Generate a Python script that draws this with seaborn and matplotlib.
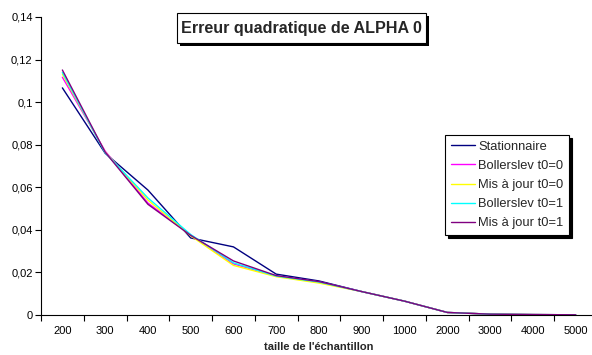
import matplotlib
matplotlib.use("Agg")
import matplotlib.pyplot as plt
import matplotlib.patheffects as pe
from matplotlib.patches import Rectangle
import numpy as np
import pandas as pd
import seaborn as sns

# Data
tailles = ["200", "300", "400", "500", "600", "700", "800", "900",
           "1000", "2000", "3000", "4000", "5000"]
series = ["Stationnaire", "Bollerslev t0=0", "Mis à jour t0=0",
          "Bollerslev t0=1", "Mis à jour t0=1"]
stationnaire = [0.1067, 0.0760, 0.0587, 0.0362, 0.0320, 0.0192, 0.0160,
                0.0110, 0.0065, 0.0012, 0.0004, 0.0002, 0.0001]
bollerslev_0 = [0.1117, 0.0770, 0.0526, 0.0376, 0.0240, 0.0183, 0.0155,
                0.0110, 0.0065, 0.0012, 0.0004, 0.0002, 0.0001]
maj_0 = [0.1132, 0.0765, 0.0540, 0.0372, 0.0233, 0.0180, 0.0150,
         0.0110, 0.0065, 0.0012, 0.0004, 0.0002, 0.0001]
bollerslev_1 = [0.1140, 0.0762, 0.0550, 0.0378, 0.0245, 0.0183, 0.0155,
                0.0110, 0.0065, 0.0012, 0.0004, 0.0002, 0.0001]
maj_1 = [0.1151, 0.0765, 0.0520, 0.0374, 0.0254, 0.0185, 0.0157,
         0.0110, 0.0065, 0.0012, 0.0004, 0.0002, 0.0001]
couleurs = ["#000080", "#FF00FF", "#FFFF00", "#00FFFF", "#800080"]

y_ticks = [0, 0.02, 0.04, 0.06, 0.08, 0.10, 0.12, 0.14]

valeurs = [stationnaire, bollerslev_0, maj_0, bollerslev_1, maj_1]
df = pd.concat(
    [pd.DataFrame({"pos": np.arange(len(tailles)), "val": v, "serie": s})
     for s, v in zip(series, valeurs)],
    ignore_index=True,
)

sns.set_style("white")
plt.rcParams["font.family"] = ["Liberation Sans", "DejaVu Sans"]

W, H = 592, 355
fig = plt.figure(figsize=(W / 100, H / 100), dpi=100)
ax = fig.add_axes([41 / W, 1 - 315 / H, (597 - 41) / W, (315 - 17) / H])

sns.lineplot(data=df, x="pos", y="val", hue="serie", hue_order=series,
             palette=couleurs, sort=False, linewidth=1.0, legend=False, ax=ax)

ax.set_xlim(-0.5, len(tailles) - 0.5)
ax.set_ylim(0, 0.14)
ax.set_yticks(y_ticks)
ax.set_yticklabels([f"{v:g}".replace(".", ",") for v in y_ticks])
ax.set_xticks(np.arange(len(tailles)))
ax.set_xticklabels(tailles)
ax.set_xticks(np.arange(len(tailles) + 1) - 0.5, minor=True)
ax.tick_params(axis="x", which="major", length=0, labelsize=8, pad=8,
               colors="black")
ax.tick_params(axis="x", which="minor", length=4, width=0.8, direction="out",
               bottom=True, color="black")
ax.tick_params(axis="y", length=4, width=0.8, direction="out", left=True,
               labelsize=8, colors="black", pad=2)
for side in ["top", "right"]:
    ax.spines[side].set_visible(False)
for side in ["left", "bottom"]:
    ax.spines[side].set_color("black")
    ax.spines[side].set_linewidth(0.8)
ax.set_xlabel("taille de l'échantillon", fontsize=8, fontweight="bold",
              labelpad=4)
ax.set_ylabel("")

# Legend with shadow
leg = ax.legend(ax.get_lines()[:len(series)], series, loc="upper left",
                bbox_to_anchor=(445 / W, 1 - 135 / H),
                bbox_transform=fig.transFigure, borderaxespad=0,
                fontsize=9.3, frameon=True, fancybox=False,
                shadow={"color": "black", "alpha": 1},
                handlelength=1.9, handletextpad=0.2, labelspacing=0.55,
                borderpad=0.45)
leg.get_frame().set_edgecolor("black")
leg.get_frame().set_linewidth(0.8)
leg.get_frame().set_alpha(1)

# Title in a box with shadow
cadre = Rectangle((177 / W, 1 - 43 / H), (426 - 177) / W, 30 / H,
                  transform=fig.transFigure, fc="white", ec="black", lw=0.8,
                  zorder=5)
cadre.set_path_effects(
    [pe.SimplePatchShadow(offset=(2, -2), shadow_rgbFace="black", alpha=1),
     pe.Normal()])
fig.patches.append(cadre)
fig.text(301.5 / W, 1 - 28.5 / H, "Erreur quadratique de ALPHA 0",
         ha="center", va="center", fontsize=11.6, fontweight="bold", zorder=6)

fig.savefig("out.png", dpi=100, facecolor="white")
